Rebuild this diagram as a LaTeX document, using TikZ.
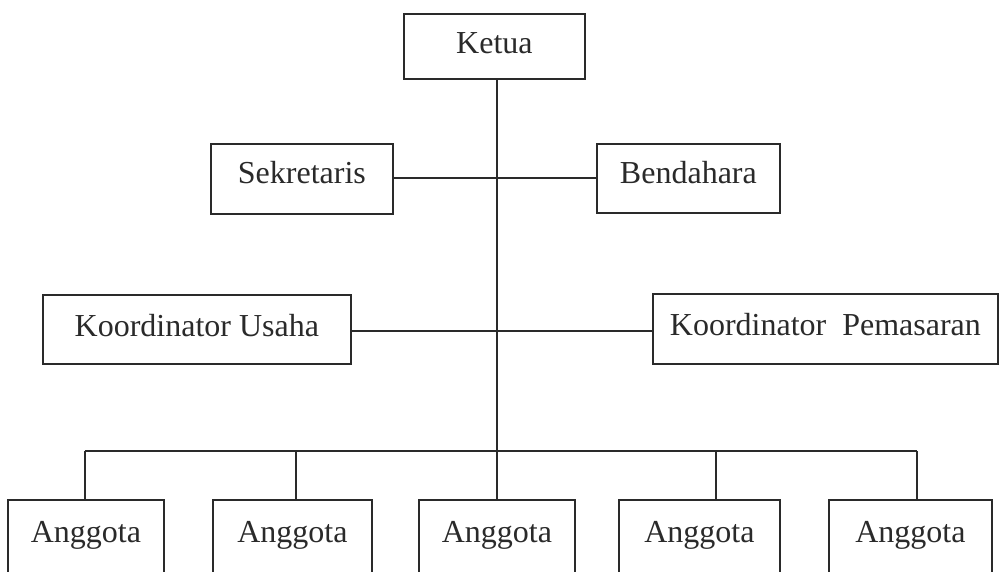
\documentclass[tikz,border=0pt]{standalone}
\usepackage{fontspec}
\setmainfont{Liberation Serif}
\definecolor{ink}{HTML}{2A2A2A}
\begin{document}
\begin{tikzpicture}[x=1pt,y=-1pt,
  line width=1.8pt, draw=ink,
  orgbox/.style={draw=ink, rectangle, anchor=north west, inner xsep=0pt, inner ysep=0pt,
    font=\fontsize{32}{38}\selectfont, text=ink, align=center},
  link/.style={draw=ink, line width=1.8pt}]
\clip (0,0) rectangle (999,572);
\fill[white] (0,0) rectangle (999,572);
% top
\node[orgbox, minimum width=181pt, text height=40pt, text depth=25pt] (ketua) at (403,13) {Ketua};
\node[orgbox, minimum width=182pt, text height=40pt, text depth=30pt] (sek) at (210,143) {Sekretaris};
\node[orgbox, minimum width=183pt, text height=40pt, text depth=29pt] (ben) at (596,143) {Bendahara};
\node[orgbox, minimum width=308pt, text height=42pt, text depth=27pt] (ku) at (42,294) {Koordinator Usaha};
\node[orgbox, minimum width=345pt, text height=42pt, text depth=28pt] (kp) at (652,293) {Koordinator\ \ Pemasaran};
% members
\node[orgbox, minimum width=156pt, text height=43pt, text depth=40pt] (a1) at (7,499) {Anggota};
\node[orgbox, minimum width=159pt, text height=43pt, text depth=40pt] (a2) at (212,499) {Anggota};
\node[orgbox, minimum width=156pt, text height=43pt, text depth=40pt] (a3) at (418,499) {Anggota};
\node[orgbox, minimum width=161pt, text height=43pt, text depth=40pt] (a4) at (618,499) {Anggota};
\node[orgbox, minimum width=163pt, text height=43pt, text depth=40pt] (a5) at (828,499) {Anggota};
% helper coordinates
\coordinate (spine) at (497,451);
\coordinate (row2) at (497,178);
\coordinate (row3) at (497,331);
\coordinate (d1) at (85,451);
\coordinate (d2) at (296,451);
\coordinate (d3) at (497,451);
\coordinate (d4) at (716,451);
\coordinate (d5) at (917,451);
% connectors
\draw[link] (ketua.south -| spine) -- (spine);
\draw[link] (sek.east |- row2) -- (ben.west |- row2);
\draw[link] (ku.east |- row3) -- (kp.west |- row3);
\draw[link] (d1) -- (d5);
\draw[link] (d1) -- (d1 |- a1.north);
\draw[link] (d2) -- (d2 |- a2.north);
\draw[link] (d3) -- (d3 |- a3.north);
\draw[link] (d4) -- (d4 |- a4.north);
\draw[link] (d5) -- (d5 |- a5.north);
\end{tikzpicture}
\end{document}
